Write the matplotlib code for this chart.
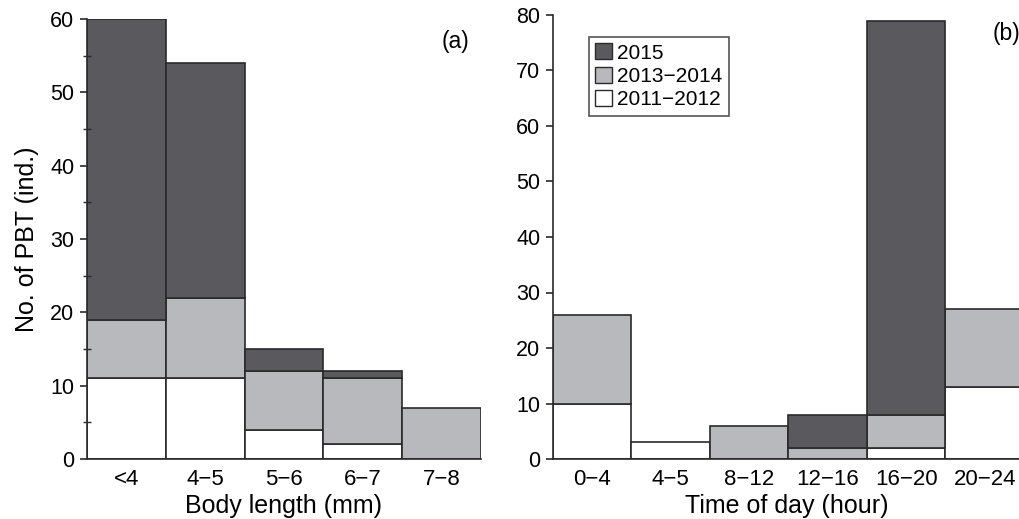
import matplotlib
matplotlib.use("Agg")
import matplotlib.pyplot as plt
import numpy as np
from matplotlib.patches import Patch

plt.rcParams["font.family"] = ["Liberation Sans", "DejaVu Sans"]

# panel (a): body length
length_cats = ["<4", "4\u22125", "5\u22126", "6\u22127", "7\u22128"]
a_2011_2012 = [11, 11, 4, 2, 0]
a_2013_2014 = [8, 11, 8, 9, 7]
a_2015 = [41, 32, 3, 1, 0]

# panel (b): time of day
time_cats = ["0\u22124", "4\u22125", "8\u221212", "12\u221216", "16\u221220", "20\u221224"]
b_2011_2012 = [10, 3, 0, 0, 2, 13]
b_2013_2014 = [16, 0, 6, 2, 6, 14]
b_2015 = [0, 0, 0, 6, 71, 0]

series_names = ["2011\u22122012", "2013\u22122014", "2015"]
colors = ["#ffffff", "#b8b9bc", "#5a595e"]
edge = "#2a2a2a"

W, H = 1020, 519
fig = plt.figure(figsize=(W / 100, H / 100), dpi=100)
ax1 = fig.add_axes([87 / W, 1 - 459 / H, (481 - 87) / W, (459 - 19) / H])
ax2 = fig.add_axes([553 / W, 1 - 459 / H, (1020 - 553) / W, (459 - 15) / H])


def stacked(ax, cats, layers):
    x = np.arange(len(cats))
    bottom = np.zeros(len(cats))
    for vals, c in zip(layers, colors):
        vals = np.array(vals, dtype=float)
        mask = vals > 0
        ax.bar(x[mask], vals[mask], bottom=bottom[mask], width=1.0,
               color=c, edgecolor=edge, linewidth=1.2)
        bottom += vals
    ax.set_xticks(x)
    ax.set_xticklabels(cats, fontsize=16)
    for s in ["top", "right"]:
        ax.spines[s].set_visible(False)
    for s in ["left", "bottom"]:
        ax.spines[s].set_linewidth(1.2)
        ax.spines[s].set_color(edge)
    ax.tick_params(axis="x", length=0, pad=7)
    ax.tick_params(axis="y", labelsize=15.5, length=5, width=1.2, color=edge, pad=4)


stacked(ax1, length_cats, [a_2011_2012, a_2013_2014, a_2015])
ax1.set_xlim(-0.5, 4.5)
ax1.set_ylim(0, 60)
ax1.set_yticks(np.arange(0, 61, 10))
ax1.set_yticks(np.arange(5, 60, 10), minor=True)
ax1.tick_params(axis="y", which="minor", direction="inout", length=6, width=1.0, color=edge)
ax1.set_ylabel("No. of PBT (ind.)", fontsize=18, labelpad=8)
ax1.set_xlabel("Body length (mm)", fontsize=18, labelpad=3)
ax1.text(0.97, 0.975, "(a)", transform=ax1.transAxes, ha="right", va="top", fontsize=16.5)

stacked(ax2, time_cats, [b_2011_2012, b_2013_2014, b_2015])
ax2.set_xlim(-0.5, 5.45)
ax2.set_ylim(0, 80)
ax2.set_yticks(np.arange(0, 81, 10))
ax2.set_xlabel("Time of day (hour)", fontsize=18, labelpad=3)
ax2.text(1.0, 0.985, "(b)", transform=ax2.transAxes, ha="right", va="top", fontsize=16.5)

# legend: newest on top
handles = [Patch(facecolor=colors[i], edgecolor=edge, linewidth=1.0, label=series_names[i])
           for i in [2, 1, 0]]
leg = ax2.legend(handles=handles, loc="upper left", bbox_to_anchor=(0.077, 0.95),
                 fontsize=15, frameon=True, fancybox=False, handlelength=0.8,
                 handleheight=0.8, handletextpad=0.25, borderpad=0.3,
                 labelspacing=0.2, borderaxespad=0)
leg.get_frame().set_edgecolor(edge)
leg.get_frame().set_linewidth(1.2)

fig.savefig("out.png", dpi=100)
